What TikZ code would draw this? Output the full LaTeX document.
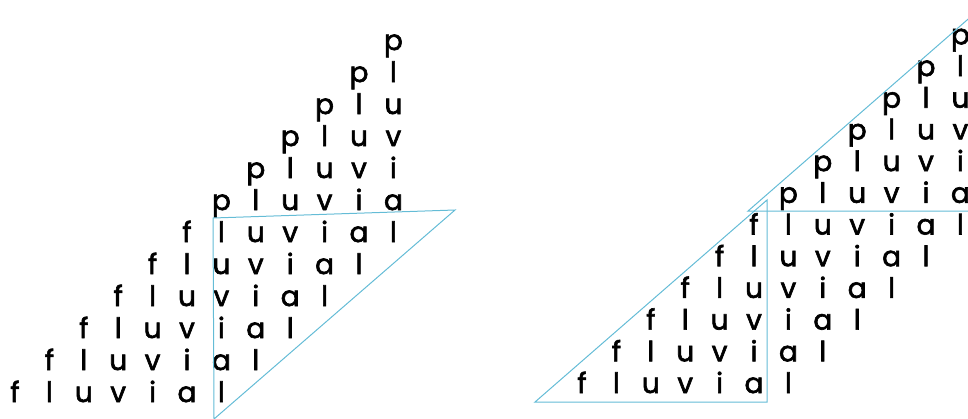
\documentclass[tikz,border=0pt]{standalone}
\usepackage{fontspec}
\setmainfont{Poppins}
\newfontfamily\lettfont{Poppins}[FakeBold=2.2]
\usepackage{tikz}
\definecolor{trcyan}{RGB}{100,188,214}
\tikzset{
  letter/.style={inner sep=0pt, anchor=base, font=\lettfont\fontsize{28}{30}\selectfont},
  tri/.style={draw=trcyan, line width=1pt, line join=miter}
}

\begin{document}
\begin{tikzpicture}[x=1pt, y=-1pt]
\useasboundingbox (0,0) rectangle (968,418);
\clip (0,0) rectangle (968,418);
% Left grid: fluvial rows (bottom), pluvia rows (top)
\foreach \r in {0,...,5}{
  \foreach \ch [count=\k from 0] in {f,l,u,v,i,a,l}{
    \node[letter] (L-\r-\k) at ({15+34.4*(\r+\k)}, {402-32*\r}) {\ch};
  }
}
\foreach \r in {6,...,11}{
  \foreach \ch [count=\k from 0] in {p,l,u,v,i,a}{
    \pgfmathtruncatemacro\c{\r+\k}
    \ifnum\c<12 \node[letter] (L-\r-\k) at ({15+34.4*\c}, {402-32*\r}) {\ch};\fi
  }
}
% Right grid, same letters
\foreach \r in {0,...,5}{
  \foreach \ch [count=\k from 0] in {f,l,u,v,i,a,l}{
    \node[letter] (R-\r-\k) at ({582+34.4*(\r+\k)}, {393-31.7*\r}) {\ch};
  }
}
\foreach \r in {6,...,11}{
  \foreach \ch [count=\k from 0] in {p,l,u,v,i,a}{
    \pgfmathtruncatemacro\c{\r+\k}
    \ifnum\c<12 \node[letter] (R-\r-\k) at ({582+34.4*\c}, {393-31.7*\r}) {\ch};\fi
  }
}
% Left triangle
\coordinate (ltl) at (213,218);
\coordinate (ltr) at (455,210);
\coordinate (lbot) at (214,419);
\draw[tri] (lbot) -- (ltl) -- (ltr) -- cycle;
% Right, lower triangle
\coordinate (rbl) at (535,402);
\coordinate (rbr) at (767,402);
\coordinate (rtop) at (767,200);
\draw[tri] (rbl) -- (rbr) -- (rtop) -- cycle;
% Right, upper triangle
\coordinate (ul) at (748,211);
\coordinate (ur) at (990,211);
\coordinate (utop) at (990,0);
\draw[tri] (utop) -- (ul) -- (ur);
\end{tikzpicture}
\end{document}
